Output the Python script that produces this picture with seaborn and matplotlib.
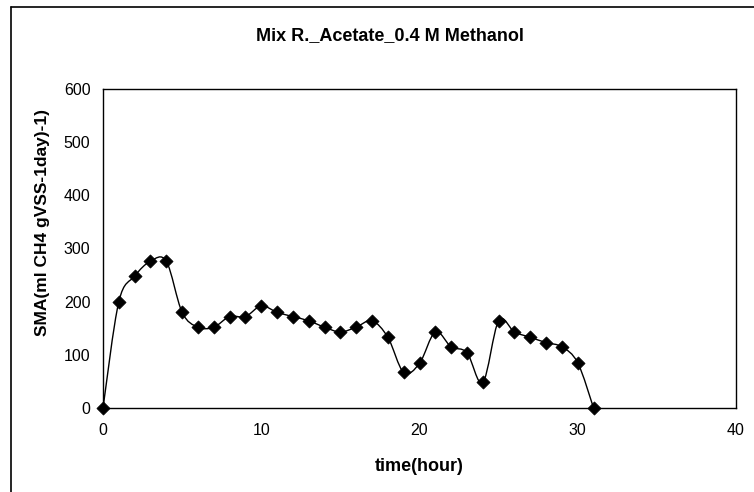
import pandas as pd
import seaborn as sns
import matplotlib.pyplot as plt
from matplotlib.path import Path
from matplotlib.patches import PathPatch
from matplotlib.lines import Line2D

# values
time_hour = list(range(32))
sma = [0, 200, 248, 276, 276, 180, 152, 152, 172, 172, 192, 180, 172, 164, 152, 143,
       152, 164, 133, 67, 84, 143, 115, 104, 48, 164, 143, 133, 123, 115, 85, 0]
x_ticks = [0, 10, 20, 30, 40]
y_ticks = [0, 100, 200, 300, 400, 500, 600]
title = "Mix R._Acetate_0.4 M Methanol"
x_label = "time(hour)"
y_label = "SMA(ml CH4 gVSS-1day)-1)"


def smooth_path(xs, ys):
    # excel style smoothed line: bezier segments with control points from neighbours
    pts = list(zip(xs, ys))
    n = len(pts)
    verts = [pts[0]]
    codes = [Path.MOVETO]
    for i in range(n - 1):
        p0 = pts[max(i - 1, 0)]
        p1 = pts[i]
        p2 = pts[i + 1]
        p3 = pts[min(i + 2, n - 1)]
        c1 = (p1[0] + (p2[0] - p0[0]) / 6, p1[1] + (p2[1] - p0[1]) / 6)
        c2 = (p2[0] - (p3[0] - p1[0]) / 6, p2[1] - (p3[1] - p1[1]) / 6)
        verts += [c1, c2, p2]
        codes += [Path.CURVE4] * 3
    return Path(verts, codes)


sns.set_theme(style="white")
plt.rcParams['font.family'] = ['Liberation Sans', 'DejaVu Sans']
plt.rcParams['text.color'] = 'black'
plt.rcParams['axes.labelcolor'] = 'black'

data = pd.DataFrame({"time": time_hour, "sma": sma})

fig = plt.figure(figsize=(7.54, 4.92), dpi=100)
ax = fig.add_axes([103 / 754, 1 - 408 / 492, 633 / 754, 319 / 492])

ax.add_patch(PathPatch(smooth_path(time_hour, sma), facecolor="none", edgecolor="black",
                       linewidth=1.0, clip_on=False))
sns.scatterplot(data=data, x="time", y="sma", marker="D", s=45, color="black",
                edgecolor="black", linewidth=0.5, ax=ax, clip_on=False, zorder=3)

ax.set_xlim(0, 40)
ax.set_ylim(0, 600)
ax.set_xticks(x_ticks)
ax.set_yticks(y_ticks)
ax.tick_params(axis="both", direction="out", length=4, width=0.8, color="black",
               labelsize=11.5, labelcolor="black")
ax.tick_params(axis="x", pad=7)
ax.tick_params(axis="y", pad=5)
for side in ["left", "bottom", "top", "right"]:
    ax.spines[side].set_color("black")
    ax.spines[side].set_linewidth(1.0)

ax.set_xlabel(x_label, fontsize=13, fontweight="bold", labelpad=14, color="black")
ax.set_ylabel("")
fig.text(43 / 754, 1 - 222 / 492, y_label, rotation=90, ha="center", va="center",
         fontsize=12.5, fontweight="bold")
fig.text(390 / 754, 1 - 36 / 492, title, ha="center", va="center",
         fontsize=13, fontweight="bold")

# outer chart frame (only top and left edges are visible in the reference)
fig.add_artist(Line2D([11 / 754, 1], [1 - 6.5 / 492, 1 - 6.5 / 492], color="black", linewidth=1.2))
fig.add_artist(Line2D([11 / 754, 11 / 754], [0, 1 - 6.5 / 492], color="black", linewidth=1.2))

fig.savefig("out.png", dpi=100)
